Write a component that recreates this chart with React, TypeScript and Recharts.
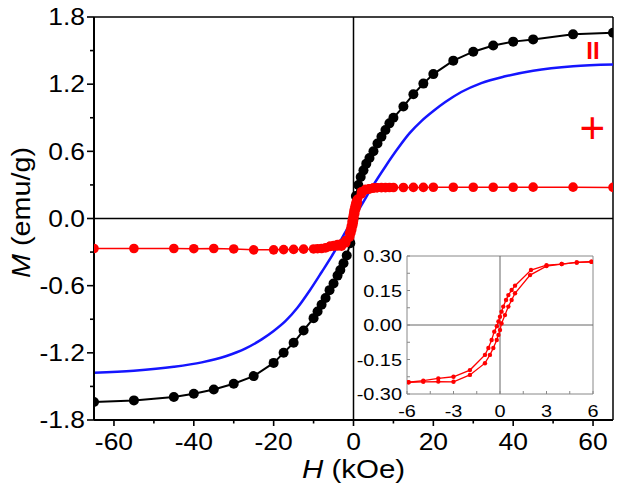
import { LineChart, Line, XAxis, YAxis, ReferenceLine, ReferenceDot, Label } from 'recharts';

const FONT = '"Liberation Sans", Arial, Helvetica, sans-serif';
const RED = '#ff0000';

// II : whole curve, H in kOe, M in emu/g
const parH = [-65, -55, -45, -40, -35, -30, -25, -20, -17.5, -15, -12.5, -10, -9, -8, -7, -6, -5, -4, -3.3, -2.5, -1.7, -0.8, 0, 0.6, 1.2, 1.8, 2.5, 3.2, 4, 5, 6, 7, 8, 9, 10, 12.5, 15, 17.5, 20, 25, 30, 35, 40, 45, 55, 65];
const parM = [-1.64, -1.625, -1.595, -1.565, -1.527, -1.476, -1.408, -1.29, -1.2, -1.11, -1.0, -0.89, -0.83, -0.77, -0.71, -0.64, -0.58, -0.51, -0.46, -0.4, -0.33, -0.22, 0, 0.2, 0.3, 0.37, 0.43, 0.49, 0.54, 0.6, 0.67, 0.73, 0.79, 0.85, 0.9, 1.0, 1.11, 1.205, 1.29, 1.41, 1.49, 1.545, 1.58, 1.6, 1.645, 1.66];

// blue curve (II minus +)
const fitH = [-65, -55, -45, -38, -32, -27, -23, -20, -17, -14, -11, -8, -5, -2, 0, 2, 5, 8, 11, 14, 17, 20, 23, 27, 32, 38, 45, 55, 65];
const fitM = [-1.378, -1.36, -1.325, -1.285, -1.23, -1.16, -1.08, -1.005, -0.915, -0.795, -0.645, -0.48, -0.31, -0.12, 0, 0.12, 0.3, 0.465, 0.62, 0.76, 0.87, 0.96, 1.04, 1.13, 1.21, 1.27, 1.32, 1.36, 1.375];

// + : high field points
const perpLowH = [-65, -55, -45, -40, -35, -30, -25, -20, -17.5, -15, -12.5, -10, -9, -8, -7];
const perpLowM = [-0.268, -0.268, -0.268, -0.27, -0.268, -0.272, -0.28, -0.28, -0.278, -0.276, -0.274, -0.272, -0.27, -0.268, -0.262];
const perpHighH = [7, 8, 9, 10, 12.5, 15, 17.5, 20, 25, 30, 35, 40, 45, 55, 65];
const perpHighM = [0.276, 0.276, 0.277, 0.277, 0.277, 0.278, 0.278, 0.279, 0.279, 0.279, 0.279, 0.279, 0.28, 0.28, 0.278];

// + : low field loop (also shown in the inset)
const loopUpH = [-5.9, -4.95, -3.98, -3.0, -1.94, -0.97, -0.65, -0.43, -0.21, -0.1, 0, 0.1, 0.32, 0.54, 0.75, 0.97, 1.94, 3.0, 3.98, 4.95, 5.9];
const loopUpM = [-0.249, -0.247, -0.246, -0.247, -0.217, -0.166, -0.13, -0.1, -0.065, -0.043, -0.022, 0.007, 0.043, 0.08, 0.109, 0.138, 0.217, 0.256, 0.265, 0.272, 0.275];
const loopDownH = [5.9, 4.95, 3.98, 3.0, 2.0, 0.97, 0.75, 0.54, 0.39, 0.21, 0.1, 0, -0.1, -0.2, -0.37, -0.54, -0.75, -0.97, -1.94, -3.0, -3.98, -4.95, -5.9];
const loopDownM = [0.275, 0.272, 0.265, 0.26, 0.239, 0.171, 0.152, 0.13, 0.109, 0.08, 0.058, 0.036, 0.015, -0.005, -0.029, -0.065, -0.1, -0.13, -0.196, -0.225, -0.232, -0.242, -0.249];

const mainXTicks = [-60, -50, -40, -30, -20, -10, 0, 10, 20, 30, 40, 50, 60];
const mainXMajor = [-60, -40, -20, 0, 20, 40, 60];
const mainYTicks = [-1.8, -1.5, -1.2, -0.9, -0.6, -0.3, 0, 0.3, 0.6, 0.9, 1.2, 1.5, 1.8];
const mainYMajor = [-1.8, -1.2, -0.6, 0, 0.6, 1.2, 1.8];
const insetXTicks = [-6, -4.5, -3, -1.5, 0, 1.5, 3, 4.5, 6];
const insetXMajor = [-6, -3, 0, 3, 6];
const insetYTicks = [-0.3, -0.225, -0.15, -0.075, 0, 0.075, 0.15, 0.225, 0.3];
const insetYMajor = [-0.3, -0.15, 0, 0.15, 0.3];

const pts = (hs: number[], ms: number[]) => hs.map((h, i) => ({ h, m: ms[i] }));

const parData = pts(parH, parM);
const fitData = pts(fitH, fitM);
const perpUp = [...pts(perpLowH, perpLowM), ...pts(loopUpH, loopUpM), ...pts(perpHighH, perpHighM)];
const loopUp = pts(loopUpH, loopUpM);
const loopDown = pts(loopDownH, loopDownM);

type TickOpts = {
  majors: number[];
  digits: number;
  fontSize: number;
  sx: number;
  len: number;
  minorLen: number;
  inward: boolean;
  stroke: string;
  width: number;
  gap: number;
};

const isMajor = (v: number, majors: number[]) => majors.some((m) => Math.abs(m - v) < 1e-6);

const makeXTick = (o: TickOpts) => (props: any) => {
  const { x, y, payload } = props;
  const v = payload.value as number;
  const major = isMajor(v, o.majors);
  const len = major ? o.len : o.minorLen;
  return (
    <g>
      <line x1={x} x2={x} y1={y} y2={o.inward ? y - len : y + len} stroke={o.stroke} strokeWidth={o.width} />
      {major && (
        <g transform={`translate(${x} ${y + o.gap}) scale(${o.sx} 1)`}>
          <text x={0} y={0} textAnchor="middle" fontSize={o.fontSize} fontFamily={FONT} fill="#000">
            {v.toFixed(o.digits)}
          </text>
        </g>
      )}
    </g>
  );
};

const makeYTick = (o: TickOpts) => (props: any) => {
  const { x, y, payload } = props;
  const v = payload.value as number;
  const major = isMajor(v, o.majors);
  const len = major ? o.len : o.minorLen;
  return (
    <g>
      <line x1={x} x2={o.inward ? x + len : x - len} y1={y} y2={y} stroke={o.stroke} strokeWidth={o.width} />
      {major && (
        <g transform={`translate(${x - o.gap} ${y}) scale(${o.sx} 1)`}>
          <text x={0} y={0} dy="0.36em" textAnchor="end" fontSize={o.fontSize} fontFamily={FONT} fill="#000">
            {v.toFixed(o.digits)}
          </text>
        </g>
      )}
    </g>
  );
};

const mainXTick = makeXTick({ majors: mainXMajor, digits: 0, fontSize: 23, sx: 1.15, len: 6, minorLen: 3.5, inward: false, stroke: '#000', width: 1.6, gap: 30 });
const mainYTick = makeYTick({ majors: mainYMajor, digits: 1, fontSize: 23, sx: 1.15, len: 7, minorLen: 4, inward: false, stroke: '#000', width: 1.6, gap: 9 });
const insetXTick = makeXTick({ majors: insetXMajor, digits: 0, fontSize: 17, sx: 1.17, len: 3, minorLen: 3, inward: true, stroke: '#888', width: 1, gap: 23 });
const insetYTick = makeYTick({ majors: insetYMajor, digits: 2, fontSize: 17, sx: 1.17, len: 3, minorLen: 3, inward: true, stroke: '#888', width: 1, gap: 5 });

const xTitle = (p: any) => {
  const vb = p.viewBox;
  const cx = vb.x + vb.width / 2;
  const cy = vb.y + 58;
  return (
    <g transform={`translate(${cx} ${cy}) scale(1.18 1)`}>
      <text x={0} y={0} textAnchor="middle" fontSize={25} fontFamily={FONT} fill="#000">
        <tspan fontStyle="italic">H</tspan>
        <tspan>{' (kOe)'}</tspan>
      </text>
    </g>
  );
};

const yTitle = (p: any) => {
  const vb = p.viewBox;
  const cx = vb.x + 30;
  const cy = vb.y + vb.height / 2 - 6;
  return (
    <g transform={`translate(${cx} ${cy}) rotate(-90) scale(1.15 1)`}>
      <text x={0} y={0} textAnchor="middle" fontSize={25} fontFamily={FONT} fill="#000">
        <tspan fontStyle="italic">M</tspan>
        <tspan>{' (emu/g)'}</tspan>
      </text>
    </g>
  );
};

export default function App() {
  return (
    <div style={{ position: 'absolute', left: 0, top: 0, width: 622, height: 490, fontFamily: FONT, background: '#fff' }}>
      <LineChart width={622} height={490} margin={{ top: 17, right: 9, bottom: 20, left: 0 }}>
        <XAxis
          type="number"
          dataKey="h"
          domain={[-65, 65]}
          ticks={mainXTicks}
          interval={0}
          height={50}
          tickSize={0}
          tickMargin={0}
          tickLine={false}
          axisLine={{ stroke: '#000', strokeWidth: 2 }}
          tick={mainXTick}
          allowDataOverflow
        >
          <Label content={xTitle} />
        </XAxis>
        <YAxis
          type="number"
          domain={[-1.8, 1.8]}
          ticks={mainYTicks}
          interval={0}
          width={94}
          tickSize={0}
          tickMargin={0}
          tickLine={false}
          axisLine={{ stroke: '#000', strokeWidth: 2 }}
          tick={mainYTick}
          allowDataOverflow
        >
          <Label content={yTitle} />
        </YAxis>
        <ReferenceLine y={1.8} stroke="#000" strokeWidth={1.5} ifOverflow="visible" />
        <ReferenceLine x={65} stroke="#000" strokeWidth={1.5} ifOverflow="visible" />
        <ReferenceLine x={0} stroke="#000" strokeWidth={1.5} ifOverflow="visible" />
        <ReferenceLine y={0} stroke="#000" strokeWidth={1.5} ifOverflow="visible" />
        <Line
          data={parData}
          dataKey="m"
          type="linear"
          stroke="#000"
          strokeWidth={2}
          dot={{ r: 5, fill: '#000', stroke: '#000', strokeWidth: 0 }}
          isAnimationActive={false}
        />
        <Line data={fitData} dataKey="m" type="monotone" stroke="#1515ff" strokeWidth={2.5} dot={false} isAnimationActive={false} />
        <Line
          data={perpUp}
          dataKey="m"
          type="linear"
          stroke={RED}
          strokeWidth={1.5}
          dot={{ r: 4.8, fill: RED, stroke: RED, strokeWidth: 0 }}
          isAnimationActive={false}
        />
        <Line
          data={loopDown}
          dataKey="m"
          type="linear"
          stroke={RED}
          strokeWidth={1.5}
          dot={{ r: 4.8, fill: RED, stroke: RED, strokeWidth: 0 }}
          isAnimationActive={false}
        />
        <ReferenceDot x={60} y={1.5} r={0} fill="none" stroke="none" label={{ value: 'II', fill: RED, fontSize: 24, fontWeight: 'bold', position: 'center' }} />
        <ReferenceDot x={59.8} y={0.81} r={0} fill="none" stroke="none" label={{ value: '+', fill: RED, fontSize: 44, position: 'center' }} />
      </LineChart>

      <div style={{ position: 'absolute', left: 340, top: 236 }}>
        <LineChart width={270} height={190} margin={{ top: 20, right: 17, bottom: 0, left: 0 }}>
          <XAxis
            type="number"
            dataKey="h"
            domain={[-6, 6]}
            ticks={insetXTicks}
            interval={0}
            height={32}
            tickSize={0}
            tickMargin={0}
            tickLine={false}
            axisLine={{ stroke: '#888', strokeWidth: 1 }}
            tick={insetXTick}
            allowDataOverflow
          />
          <YAxis
            type="number"
            domain={[-0.3, 0.3]}
            ticks={insetYTicks}
            interval={0}
            width={67}
            tickSize={0}
            tickMargin={0}
            tickLine={false}
            axisLine={{ stroke: '#888', strokeWidth: 1 }}
            tick={insetYTick}
            allowDataOverflow
          />
          <ReferenceLine y={0.3} stroke="#888" strokeWidth={1} ifOverflow="visible" />
          <ReferenceLine x={6} stroke="#888" strokeWidth={1} ifOverflow="visible" />
          <ReferenceLine x={0} stroke="#666" strokeWidth={1} ifOverflow="visible" />
          <ReferenceLine y={0} stroke="#666" strokeWidth={1} ifOverflow="visible" />
          <Line
            data={loopUp}
            dataKey="m"
            type="linear"
            stroke={RED}
            strokeWidth={1.3}
            dot={{ r: 2.2, fill: RED, stroke: RED, strokeWidth: 0 }}
            isAnimationActive={false}
          />
          <Line
            data={loopDown}
            dataKey="m"
            type="linear"
            stroke={RED}
            strokeWidth={1.3}
            dot={{ r: 2.2, fill: RED, stroke: RED, strokeWidth: 0 }}
            isAnimationActive={false}
          />
        </LineChart>
      </div>
    </div>
  );
}
